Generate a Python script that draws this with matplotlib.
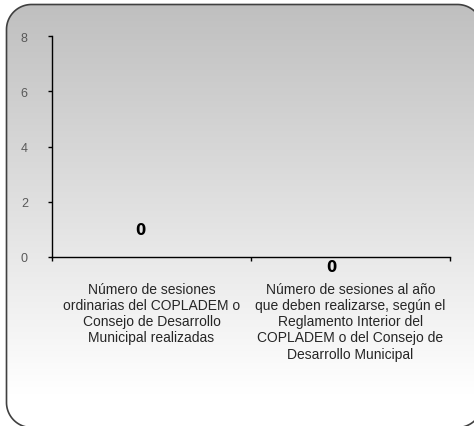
import matplotlib.pyplot as plt
import numpy as np
from matplotlib.patches import Polygon

categories = [
    "Número de sesiones\nordinarias del COPLADEM o\nConsejo de Desarrollo\nMunicipal realizadas",
    "Número de sesiones al año\nque deben realizarse, según el\nReglamento Interior del\nCOPLADEM o del Consejo de\nDesarrollo Municipal",
]
values = [0, 0]
yticks = [0, 2, 4, 6, 8]

W, H, DPI = 474, 427, 100
fig = plt.figure(figsize=(W / DPI, H / DPI), dpi=DPI)
fig.patch.set_facecolor("white")


def rounded_rect(x0, y0, x1, y1, r, n=40):
    """Polygon vertices of a rounded rectangle (no Bezier curves)."""
    pts = []
    corners = [(x1 - r, y1 - r, 0), (x0 + r, y1 - r, 90), (x0 + r, y0 + r, 180), (x1 - r, y0 + r, 270)]
    for cx, cy, a0 in corners:
        t = np.radians(np.linspace(a0, a0 + 90, n))
        pts.extend(zip(cx + r * np.cos(t), cy + r * np.sin(t)))
    return np.array(pts)


# background: rounded box with vertical gray-to-white gradient (pixel coords, y up)
bg = fig.add_axes([0, 0, 1, 1])
bg.axis("off")
grad = np.clip(np.linspace(0, 1, 400).reshape(-1, 1) * (H - 5) / 390, 0, 1)
top, bottom = 0.75, 1.0
img = top + (bottom - top) * grad
box = Polygon(rounded_rect(6.5, -1.5, 482.5, H - 5.5, 25), closed=True,
              facecolor="none", edgecolor="#404040", linewidth=1.2, zorder=3)
bg.add_patch(box)
im = bg.imshow(np.dstack([img, img, img]), extent=(0, W, 0, H - 5), origin="upper",
               aspect="auto", zorder=1)
im.set_clip_path(box)
bg.set_xlim(0, W)
bg.set_ylim(0, H)

ax = fig.add_axes([52 / W, 1 - 258 / H, (450 - 52) / W, (258 - 37) / H])
ax.patch.set_alpha(0)
x = np.arange(len(categories))
ax.bar(x, values, width=0.6, color="#4f81bd")
ax.set_xlim(-0.5, len(categories) - 0.5)
ax.set_ylim(0, 8)
ax.set_yticks(yticks)
ax.set_yticklabels([str(t) for t in yticks], color="#595959", fontsize=9, family="Liberation Sans")
ax.tick_params(axis="y", length=3, width=1, color="black", pad=14.4)
ax.set_xticks([-0.5, 0.5, 1.5])
ax.set_xticklabels([])
ax.tick_params(axis="x", length=3, width=1, color="black")
for s in ["top", "right"]:
    ax.spines[s].set_visible(False)
for s in ["left", "bottom"]:
    ax.spines[s].set_color("black")
    ax.spines[s].set_linewidth(1)

for i, lab in enumerate(categories):
    ax.text(i, -0.9, lab, ha="center", va="top", fontsize=10, family="Liberation Sans",
            color="#262626", linespacing=1.2)

offsets = [(-8.3, 19.5), (-14, -6.5)]
for i, v in enumerate(values):
    ax.annotate(str(v), (x[i], v), xytext=offsets[i], textcoords="offset points",
                ha="center", va="center", fontsize=10.5, fontweight="bold", color="black",
                family="DejaVu Sans")

fig.savefig("out.png", dpi=DPI)
